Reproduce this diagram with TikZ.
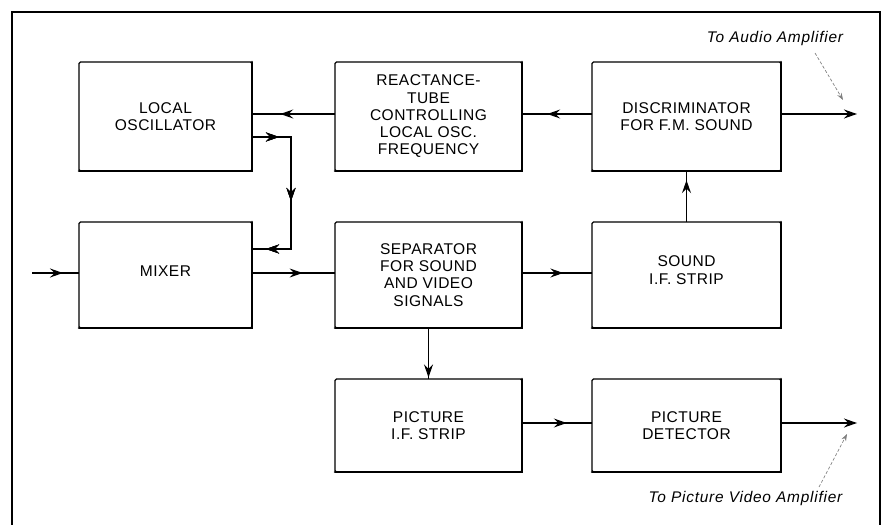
\documentclass[tikz,border=0pt]{standalone}
\usepackage{fontspec}
\setmainfont{Liberation Sans}
\usetikzlibrary{arrows.meta,decorations.markings}
\tikzset{
  blk/.style={draw, line width=1.2bp, rounded corners=1.5bp, inner sep=0pt, outer sep=0pt,
    align=center, font=\fontsize{15.6}{17.3}\selectfont\addfontfeature{LetterSpace=3}},
  conn/.style={line width=1.1bp},
  tip/.style={-{Stealth[length=13bp,width=9bp,inset=4.5bp]}},
  ma/.style={postaction={decorate},decoration={markings,
     mark=at position #1 with {\arrow{Stealth[length=13bp,width=9bp,inset=4.5bp]}}}},
  lbl/.style={font=\fontsize{15.5}{17}\selectfont\itshape\addfontfeature{LetterSpace=5}, inner sep=0pt},
  ptr/.style={gray, line width=0.7bp, dash pattern=on 3bp off 2bp,
     -{Stealth[length=7bp,width=5bp]}},
  shade/.style={line width=2.6bp, line cap=round}
}
\begin{document}
\begin{tikzpicture}[x=1bp,y=-1bp]
\useasboundingbox (0,0) rectangle (882,525);
% frame
\draw[line width=2.2bp] (12,525) -- (12,12) -- (880,12) -- (880,525);
% blocks
\node[blk, minimum width=173bp, minimum height=109bp] (lo)   at (165.5,116.5) {LOCAL\\OSCILLATOR};
\node[blk, minimum width=187bp, minimum height=109bp] (rt)   at (428.5,116.5) {REACTANCE-\\TUBE\\CONTROLLING\\LOCAL OSC.\\FREQUENCY};
\node[blk, minimum width=189bp, minimum height=109bp] (disc) at (686.5,116.5) {DISCRIMINATOR\\FOR F.M. SOUND};
\node[blk, minimum width=173bp, minimum height=106bp, text depth=8bp] (mix) at (165.5,275) {MIXER};
\node[blk, minimum width=187bp, minimum height=106bp] (sep)  at (428.5,275) {SEPARATOR\\FOR SOUND\\AND VIDEO\\SIGNALS};
\node[blk, minimum width=189bp, minimum height=106bp, text depth=10bp] (sif) at (686.5,275) {SOUND\\I.F. STRIP};
\node[blk, minimum width=187bp, minimum height=93bp]  (pif)  at (428.5,425.5) {PICTURE\\I.F. STRIP};
\node[blk, minimum width=189bp, minimum height=93bp]  (pdet) at (686.5,425.5) {PICTURE\\DETECTOR};
% heavier right and bottom edges
\foreach \n in {lo,rt,disc,mix,sep,sif,pif,pdet}{
  \draw[shade] (\n.north east) -- (\n.south east) -- (\n.south west);
}
% helper coordinates
\coordinate (yA) at (0,114);
\coordinate (yB) at (0,137);
\coordinate (yC) at (0,249);
\coordinate (yM) at (0,273);
\coordinate (yP) at (0,423);
\coordinate (bend) at (291,0);
\coordinate (in) at (32,273);
\coordinate (outA) at (857,114);
\coordinate (outP) at (857,423);
% connectors
\draw[conn, ma=0.66] (rt.west |- yA) -- (lo.east |- yA);
\draw[conn, ma=0.64] (disc.west |- yA) -- (rt.east |- yA);
\draw[conn, tip] (disc.east |- yA) -- (outA);
\draw[conn, ma=27bp, ma=103bp, ma=176bp] (lo.east |- yB) -- (bend |- yB) -- (bend |- yC) -- (mix.east |- yC);
\draw[conn, ma=0.66] (in) -- (mix.west |- yM);
\draw[conn, ma=0.61] (mix.east |- yM) -- (sep.west |- yM);
\draw[conn, ma=0.59] (sep.east |- yM) -- (sif.west |- yM);
\draw[conn, ma=0.82] (sif.north) -- (disc.south);
\draw[conn, ma=0.97] (sep.south) -- (pif.north);
\draw[conn, ma=0.64] (pif.east |- yP) -- (pdet.west |- yP);
\draw[conn, tip] (pdet.east |- yP) -- (outP);
% labels
\node[lbl] (audio) at (775,39) {To Audio Amplifier};
\node[lbl] (video) at (745.5,499) {To Picture Video Amplifier};
\coordinate (pa1) at (815,53);
\coordinate (pa2) at (843,100);
\coordinate (pv1) at (819,487);
\coordinate (pv2) at (847,434);
\draw[ptr] (pa1) -- (pa2);
\draw[ptr] (pv1) -- (pv2);
\end{tikzpicture}
\end{document}
